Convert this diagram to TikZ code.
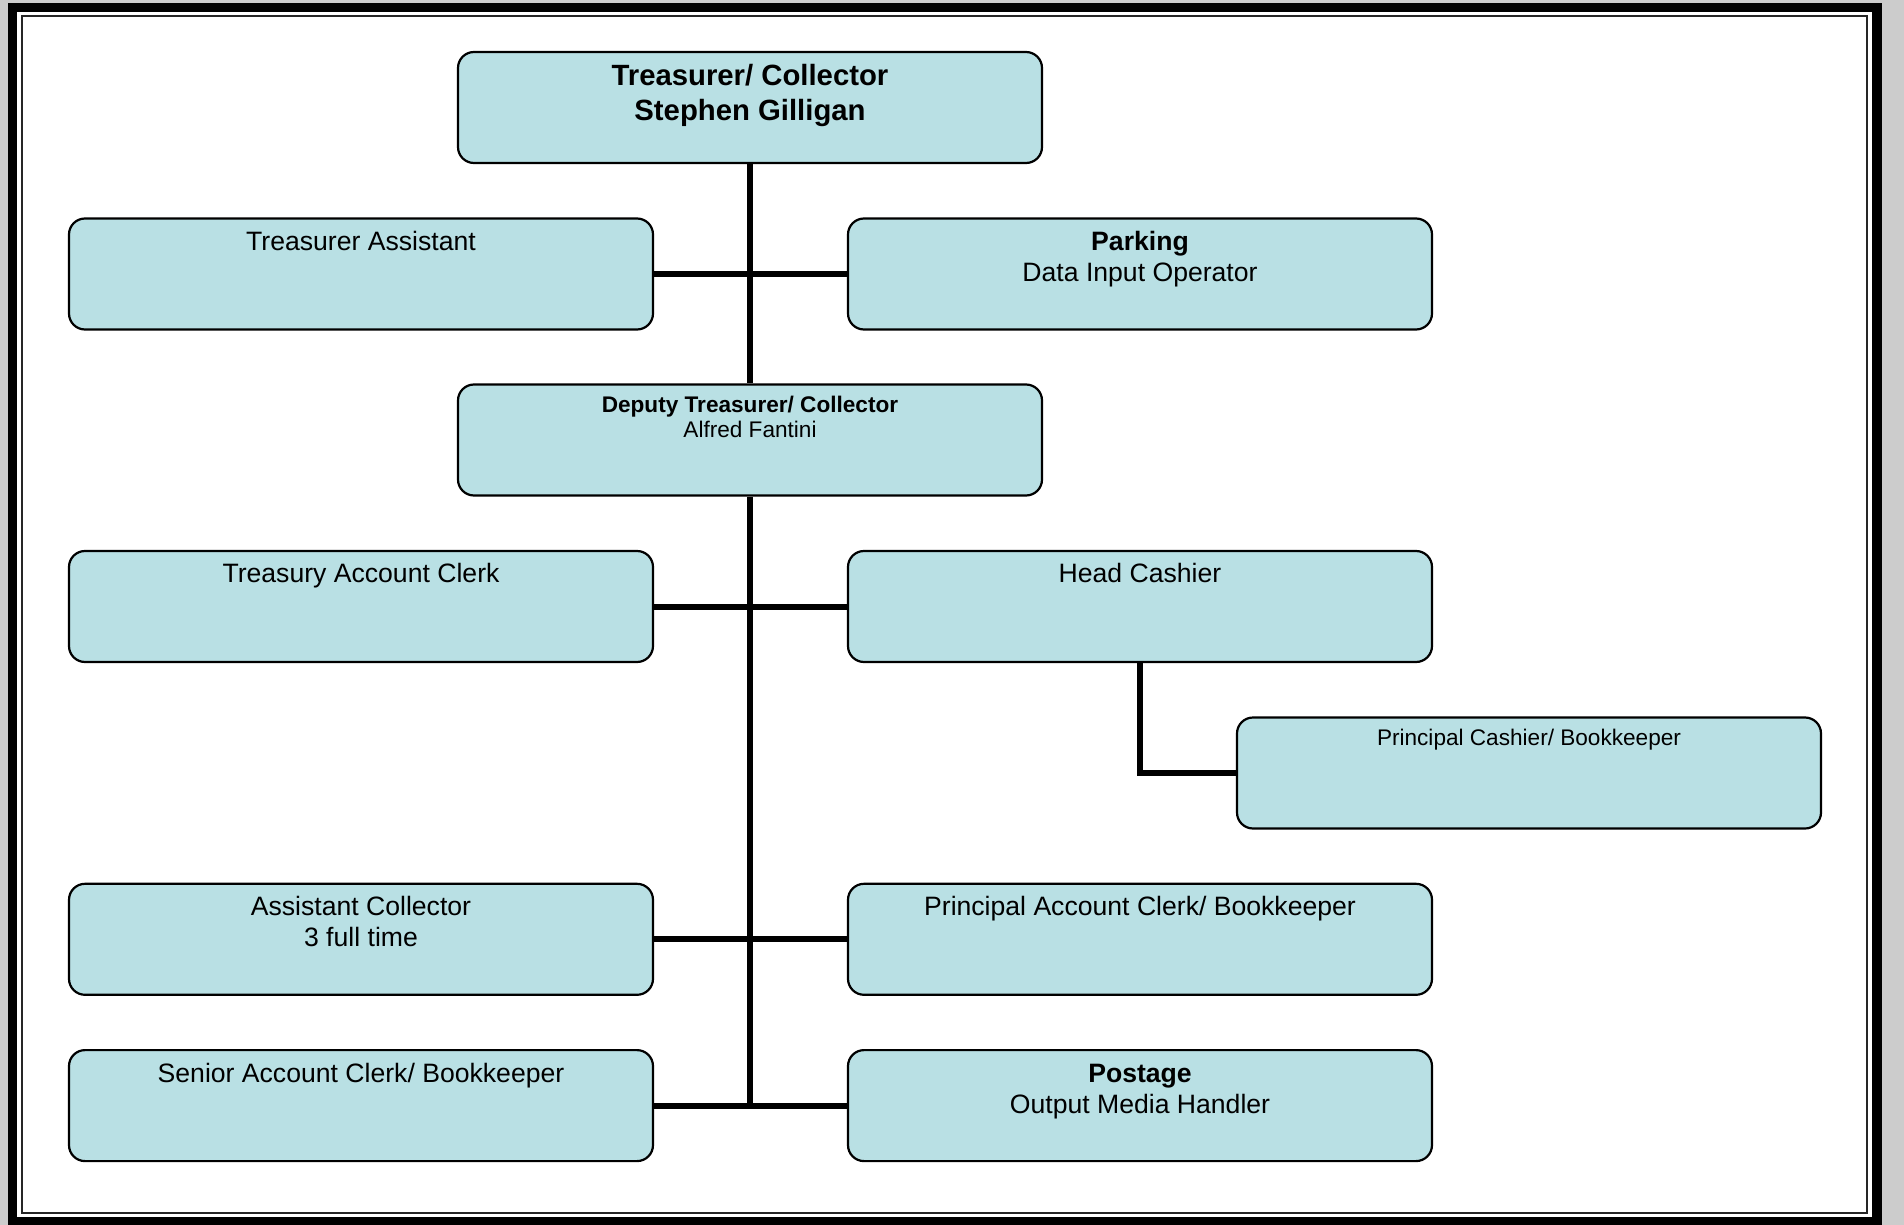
\documentclass[tikz,border=0pt]{standalone}
\usepackage{fontspec}
\setmainfont{Liberation Sans}
\usetikzlibrary{calc}
\definecolor{pagegray}{RGB}{204,204,204}
\definecolor{boxfill}{RGB}{185,224,228}
\newcommand{\fsTop}{\fontsize{29.3}{35}\selectfont}
\newcommand{\fsNorm}{\fontsize{26.6}{31}\selectfont}
\newcommand{\fsSmall}{\fontsize{22.6}{25}\selectfont}
\begin{document}
\begin{tikzpicture}[x=1pt,y=-1pt,
  orgbox/.style={draw=black, fill=boxfill, line width=2.2pt, rounded corners=16pt,
    minimum width=584pt, minimum height=111pt, inner sep=0pt},
  boxtext/.style={anchor=base, inner sep=0pt},
  link/.style={line width=6pt, black}]
\setlength{\tabcolsep}{0pt}
% page frame
\useasboundingbox (0,0) rectangle (1904,1225);
\fill[pagegray] (0,0) rectangle (1904,1225);
\fill[black] (8,3) rectangle (1882,1225);
\fill[white] (17,12) rectangle (1872,1217);
\draw[line width=1.6pt, black!85] (22,16) rectangle (1867,1213);

% boxes
\node[orgbox] (top)  at (750,107.5) {};
\node[orgbox] (tas)  at (361,274)   {};
\node[orgbox] (park) at (1140,274)  {};
\node[orgbox] (dep)  at (750,440)   {};
\node[orgbox] (tac)  at (361,606.5) {};
\node[orgbox] (hc)   at (1140,606.5){};
\node[orgbox] (pcb)  at (1529,773)  {};
\node[orgbox] (ac)   at (361,939.3) {};
\node[orgbox] (pac)  at (1140,939.3){};
\node[orgbox] (sac)  at (361,1105.6){};
\node[orgbox] (post) at (1140,1105.6){};

% box texts
\node[boxtext, font=\fsTop\bfseries, yshift=-35pt] (ttop) at (top.north)
  {\begin{tabular}[t]{c}Treasurer/ Collector\\Stephen Gilligan\end{tabular}};
\node[boxtext, font=\fsNorm, yshift=-33pt] (ttas) at (tas.north) {Treasurer Assistant};
\node[boxtext, font=\fsNorm, yshift=-33pt] (tpark) at (park.north)
  {\begin{tabular}[t]{c}\textbf{Parking}\\Data Input Operator\end{tabular}};
\node[boxtext, font=\fsSmall, yshift=-29.5pt] (tdep) at (dep.north)
  {\begin{tabular}[t]{c}\textbf{Deputy Treasurer/ Collector}\\Alfred Fantini\end{tabular}};
\node[boxtext, font=\fsNorm, yshift=-33pt] (ttac) at (tac.north) {Treasury Account Clerk};
\node[boxtext, font=\fsNorm, yshift=-33pt] (thc) at (hc.north) {Head Cashier};
\node[boxtext, font=\fsSmall, yshift=-29pt] (tpcb) at (pcb.north) {Principal Cashier/ Bookkeeper};
\node[boxtext, font=\fsNorm, yshift=-33pt] (tac2) at (ac.north)
  {\begin{tabular}[t]{c}Assistant Collector\\3 full time\end{tabular}};
\node[boxtext, font=\fsNorm, yshift=-33pt] (tpac) at (pac.north) {Principal Account Clerk/ Bookkeeper};
\node[boxtext, font=\fsNorm, yshift=-33pt] (tsac) at (sac.north) {Senior Account Clerk/ Bookkeeper};
\node[boxtext, font=\fsNorm, yshift=-33pt] (tpost) at (post.north)
  {\begin{tabular}[t]{c}\textbf{Postage}\\Output Media Handler\end{tabular}};

% connectors
\coordinate (trunkend) at (dep.south |- sac.east);
\draw[link] (top.south) -- (dep.north);
\draw[link] (dep.south) -- (trunkend);
\draw[link] (tas.east) -- (park.west);
\draw[link] (tac.east) -- (hc.west);
\draw[link] (ac.east) -- (pac.west);
\draw[link] (sac.east) -- (post.west);
\draw[link] (hc.south) -- (hc.south |- pcb.west) -- (pcb.west);
\end{tikzpicture}
\end{document}
